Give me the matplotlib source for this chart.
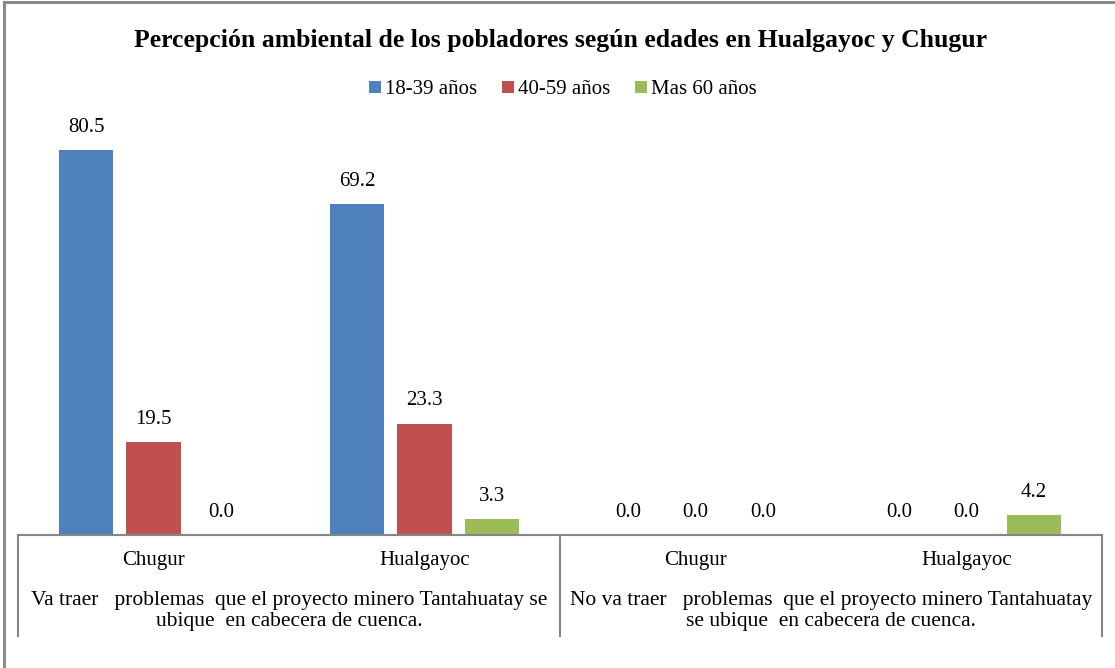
import matplotlib
matplotlib.use("Agg")
import matplotlib.pyplot as plt
import matplotlib.transforms as mtransforms
from matplotlib.lines import Line2D
from matplotlib.patches import Patch

plt.rcParams['font.family'] = ['Liberation Serif', 'DejaVu Serif']

# ---- data ----
towns = ["Chugur", "Hualgayoc", "Chugur", "Hualgayoc"]
groups = ["Va traer   problemas  que el proyecto minero Tantahuatay se\nubique  en cabecera de cuenca.",
          "No va traer   problemas  que el proyecto minero Tantahuatay\nse ubique  en cabecera de cuenca."]
series_names = ["18-39 años", "40-59 años", "Mas 60 años"]
s_18_39 = [80.5, 69.2, 0.0, 0.0]
s_40_59 = [19.5, 23.3, 0.0, 0.0]
s_60 = [0.0, 3.3, 0.0, 4.2]
colors = ["#4F81BD", "#C0504D", "#9BBB59"]
title = "Percepción ambiental de los pobladores según edades en Hualgayoc y Chugur"

W, H = 1115, 668
fig = plt.figure(figsize=(W / 100, H / 100), dpi=100)
x0, x1, yb, yt = 18, 1102, 535, 105
ax = fig.add_axes([x0 / W, (H - yb) / H, (x1 - x0) / W, (yb - yt) / H])

FS = 15
xs = list(range(len(towns)))
offs = [-0.249, 0.0, 0.249]
bw = 0.2
for vals, off, c, name in zip([s_18_39, s_40_59, s_60], offs, colors, series_names):
    pos = [x + off for x in xs]
    ax.bar(pos, vals, width=bw, color=c, label=name, zorder=2)
    for p, v in zip(pos, vals):
        ax.annotate(f"{v:.1f}", (p, v), xytext=(0, 9.5), textcoords="offset points",
                    ha="center", va="bottom", fontsize=FS)

ax.set_xlim(-0.5, len(towns) - 0.5)
ax.set_ylim(0, 90)
ax.set_yticks([])
ax.set_xticks([])
for s in ["left", "right", "top"]:
    ax.spines[s].set_visible(False)
ax.spines["bottom"].set_color("#868686")
ax.spines["bottom"].set_linewidth(1.5)

# category table
trans = mtransforms.blended_transform_factory(ax.transData, ax.transAxes)
ybot = (yb - 636) / (yb - yt)
for xv in [-0.5, 1.5, 3.5]:
    ax.add_line(Line2D([xv, xv], [0, ybot], transform=trans, color="#868686",
                       lw=1.5, clip_on=False))
for x, t in zip(xs, towns):
    ax.text(x, (yb - 561) / (yb - yt), t, transform=trans, ha="center", va="center",
            fontsize=FS)
for i, g in enumerate(groups):
    ax.text(2 * i + 0.5, (yb - 611) / (yb - yt), g, transform=trans, ha="center",
            va="center", fontsize=15.5, linespacing=1.17)

# outer border
fig.add_artist(Line2D([3.5 / W, 3.5 / W], [0, 1 - 1.5 / H], transform=fig.transFigure,
                      color="#8a8a8a", lw=2.2))
fig.add_artist(Line2D([3.5 / W, 1], [1 - 1.5 / H, 1 - 1.5 / H], transform=fig.transFigure,
                      color="#8a8a8a", lw=2.2))

fig.text(560 / W, 1 - 40 / H, title, ha="center", va="center", fontsize=18.5,
         fontweight="bold")

handles = [Patch(facecolor=c, edgecolor="none") for c in colors]
fig.legend(handles, series_names, loc="center", bbox_to_anchor=(563 / W, 1 - 90 / H),
           ncol=3, frameon=False, fontsize=FS, handlelength=0.55, handleheight=0.55,
           handletextpad=0.2, columnspacing=1.2)

fig.savefig("out.png", dpi=100)
